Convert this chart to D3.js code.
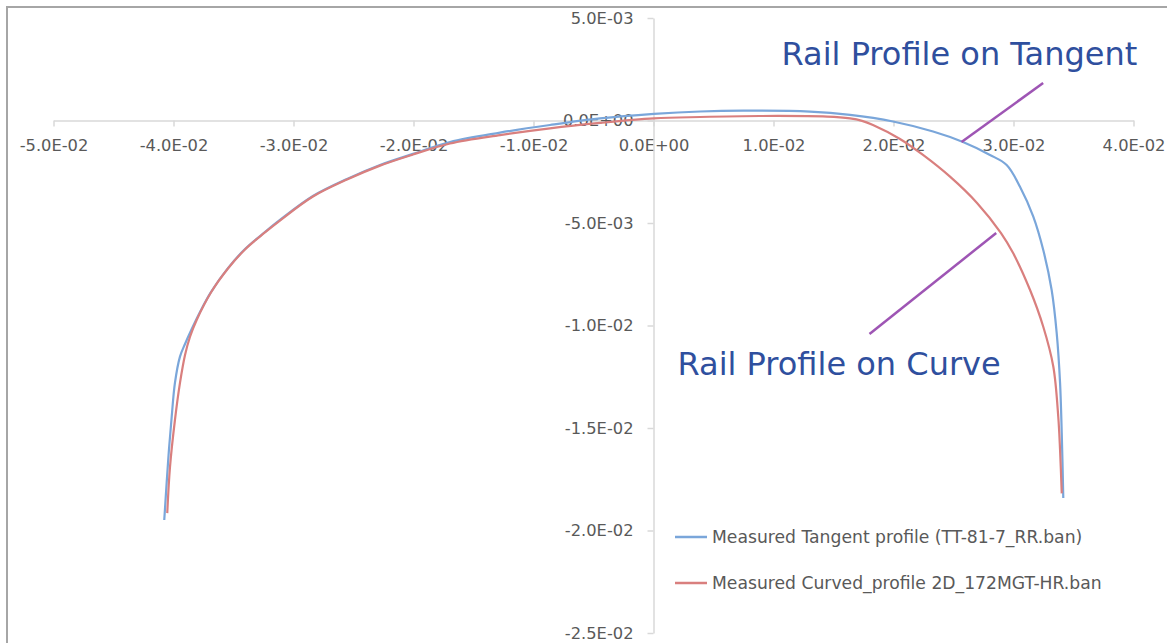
<!DOCTYPE html>
<html>
<head>
<meta charset="utf-8">
<script src="https://cdn.jsdelivr.net/npm/d3@7/dist/d3.min.js"></script>
<style>
  html, body { margin: 0; padding: 0; background: #fff; }
  svg { display: block; }
</style>
</head>
<body>
<svg id="chart" width="1167" height="643"></svg>
<script>
// ---- Data (x, y in metres) ----
const seriesNames = [
  "Measured Tangent profile (TT-81-7_RR.ban)",
  "Measured Curved_profile 2D_172MGT-HR.ban"
];
const tangentX = [-0.04077,-0.04057,-0.04038,-0.04015,-0.03988,-0.03946,-0.03904,-0.03848,-0.03779,-0.03688,-0.03546,-0.03404,-0.03238,-0.03113,-0.02838,-0.02554,-0.02279,-0.02004,-0.01696,-0.01279,-0.00863,-0.00446,0.00004,0.00388,0.00746,0.01304,0.01638,0.01996,0.0233,0.02579,0.02804,0.02943,0.03054,0.03165,0.03248,0.03318,0.0336,0.03388,0.03402,0.03415];
const tangentY = [-0.01949,-0.01768,-0.01607,-0.01445,-0.0128,-0.01152,-0.0109,-0.01017,-0.00934,-0.00837,-0.0072,-0.00627,-0.00544,-0.00485,-0.00368,-0.00285,-0.00217,-0.00163,-0.00105,-0.00059,-0.00022,0.0001,0.00032,0.00044,0.00048,0.00043,0.00027,-0.00005,-0.00054,-0.00105,-0.00168,-0.00217,-0.00323,-0.00469,-0.00632,-0.00827,-0.01037,-0.0128,-0.01524,-0.01841];
const curvedX = [-0.04052,-0.04029,-0.03988,-0.03946,-0.03904,-0.03863,-0.03807,-0.03688,-0.03546,-0.03404,-0.03238,-0.03113,-0.02838,-0.02554,-0.02279,-0.02004,-0.01696,-0.01279,-0.00863,-0.00446,0.00004,0.00388,0.00888,0.01446,0.01638,0.01738,0.01829,0.02054,0.02246,0.02471,0.02696,0.02896,0.02998,0.03138,0.03248,0.03332,0.03373,0.03388,0.03402];
const curvedY = [-0.01915,-0.01689,-0.01461,-0.0128,-0.01144,-0.01056,-0.00973,-0.00839,-0.00722,-0.00629,-0.00546,-0.00488,-0.00371,-0.00288,-0.0022,-0.00166,-0.00112,-0.00071,-0.00038,-0.00012,0.0001,0.00017,0.00022,0.00019,0.0001,-0.00002,-0.00022,-0.0009,-0.00168,-0.00274,-0.00402,-0.00549,-0.00648,-0.00827,-0.01006,-0.01201,-0.01445,-0.01607,-0.01819];
const xTicks = [-0.05,-0.04,-0.03,-0.02,-0.01,0,0.01,0.02,0.03,0.04];
const yTicks = [0.005,0,-0.005,-0.01,-0.015,-0.02,-0.025];
const annotationTexts = ["Rail Profile on Tangent", "Rail Profile on Curve"];
// annotation anchors in data units: [textX, textY, lineX1, lineY1, lineX2, lineY2]
const annotTangent = [0.01067, 0.00271, 0.02567, -0.00105, 0.03247, 0.00183];
const annotCurve   = [0.00200, -0.01241, 0.02856, -0.00549, 0.01800, -0.01041];

const colors = ["#7aa6da", "#d97f7e"];
const axisColor = "#d9d9d9";
const labelColor = "#595959";
const font = "'DejaVu Sans', sans-serif";

const svg = d3.select("#chart");

// outer border
svg.append("rect").attr("x", 7).attr("y", 7).attr("width", 1170).attr("height", 650)
  .attr("fill", "none").attr("stroke", "#a6a6a6").attr("stroke-width", 2);

const x = d3.scaleLinear().domain([-0.05, 0.04]).range([53.5, 1133.5]);
const y = d3.scaleLinear().domain([-0.025, 0.005]).range([633, 18]);

function fmt(v) {
  if (Math.abs(v) < 1e-12) v = 0;
  let s = v.toExponential(1);
  let [m, e] = s.split("e");
  let sign = e[0] === "-" ? "-" : "+";
  let digits = e.replace(/^[+-]/, "");
  if (digits.length < 2) digits = "0" + digits;
  return m + "E" + sign + digits;
}

// X axis
const xAxis = svg.append("g")
  .attr("transform", `translate(0,${y(0)})`)
  .call(d3.axisBottom(x).tickValues(xTicks).tickFormat(fmt).tickSize(6).tickSizeOuter(0).tickPadding(13));
// Y axis
const yAxis = svg.append("g")
  .attr("transform", `translate(${x(0)},0)`)
  .call(d3.axisLeft(y).tickValues(yTicks).tickFormat(fmt).tickSize(6).tickSizeOuter(0).tickPadding(14));

[xAxis, yAxis].forEach(g => {
  g.select(".domain").attr("stroke", axisColor).attr("stroke-width", 1.5);
  g.selectAll(".tick line").attr("stroke", axisColor).attr("stroke-width", 1.5);
  g.selectAll(".tick text").attr("fill", labelColor).style("font-family", font).style("font-size", "16.3px");
});

// series
const line = d3.line().x(d => x(d[0])).y(d => y(d[1])).curve(d3.curveCatmullRom.alpha(0.5));
const tangentData = tangentX.map((v, i) => [v, tangentY[i]]);
const curvedData = curvedX.map((v, i) => [v, curvedY[i]]);

svg.append("path").datum(tangentData).attr("d", line)
  .attr("fill", "none").attr("stroke", colors[0]).attr("stroke-width", 2.2);
svg.append("path").datum(curvedData).attr("d", line)
  .attr("fill", "none").attr("stroke", colors[1]).attr("stroke-width", 2.2);

// annotations
const purple = "#9e55b4";
const annBlue = "#2f4f9e";
[annotTangent, annotCurve].forEach((a, i) => {
  svg.append("line")
    .attr("x1", x(a[2])).attr("y1", y(a[3]))
    .attr("x2", x(a[4])).attr("y2", y(a[5]))
    .attr("stroke", purple).attr("stroke-width", 2.5);
  svg.append("text")
    .attr("x", x(a[0])).attr("y", y(a[1]))
    .attr("fill", annBlue)
    .style("font-family", font).style("font-size", "32px")
    .text(annotationTexts[i]);
});

// legend
const legend = svg.append("g").attr("transform", "translate(675,537)");
seriesNames.forEach((name, i) => {
  const g = legend.append("g").attr("transform", `translate(0,${i * 46})`);
  g.append("line").attr("x1", 0).attr("x2", 32).attr("y1", 0).attr("y2", 0)
    .attr("stroke", colors[i]).attr("stroke-width", 2.5);
  g.append("text").attr("x", 37).attr("y", 0).attr("dy", "0.35em")
    .attr("fill", labelColor).style("font-family", font).style("font-size", "17.2px")
    .text(name);
});
</script>
</body>
</html>
